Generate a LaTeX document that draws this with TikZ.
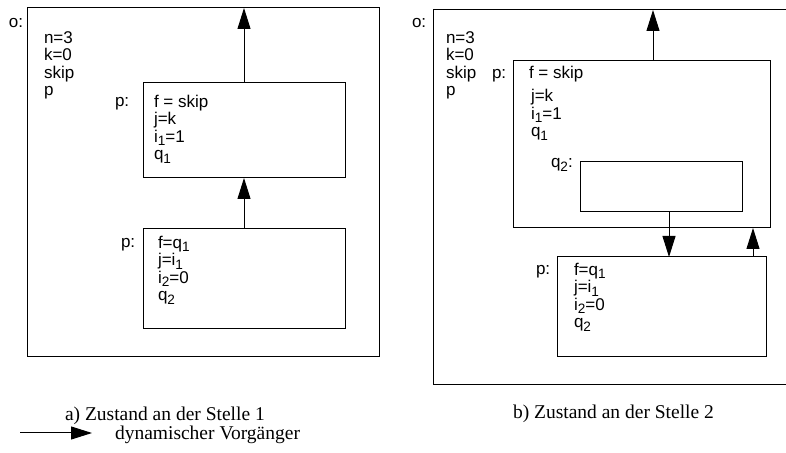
\documentclass[tikz,border=0pt]{standalone}
\usepackage{fontspec}
\setmainfont{Liberation Serif}
\setsansfont{Liberation Sans}
\usetikzlibrary{arrows.meta,positioning}
\newcommand{\tief}[1]{\raisebox{-0.4ex}{\fontsize{6.8}{7}\selectfont #1}}

\begin{document}
\begin{tikzpicture}[x=0.5pt,y=-0.5pt,
    every node/.style={inner sep=0pt,outer sep=0pt},
    box/.style={draw,line width=0.5pt,anchor=north west},
    var/.style={font=\sffamily\fontsize{8.5}{8.8}\selectfont,align=left,anchor=base west},
    beschr/.style={font=\fontsize{9.75}{11}\selectfont,anchor=base west},
    pfeil/.style={-{Triangle[length=10.5pt,width=6.5pt]},line width=0.5pt}]
  \useasboundingbox (0,0) rectangle (786,453);

  \node[box,minimum width=176pt,minimum height=174.5pt] (oa) at (27,8) {};
  \node[var] (oalab) at (9,28) {o:};
  \node[var] (oavar) at (44,96) {n=3\\k=0\\skip\\p};
  \node[box,minimum width=101pt,minimum height=47.5pt] (pa1) at (143,83) {};
  \node[var] (pa1lab) at (115,107) {p:};
  \node[var] (pa1var) at (154,160) {f = skip\\j=k\\i\tief{1}=1\\q\tief{1}};
  \node[box,minimum width=101pt,minimum height=50pt] (pa2) at (143,229) {};
  \node[var] (pa2lab) at (121,248) {p:};
  \node[var] (pa2var) at (158,301) {f=q\tief{1}\\j=i\tief{1}\\i\tief{2}=0\\q\tief{2}};
  \draw[pfeil] (pa2) -- (pa1);
  \draw[pfeil] (pa1) -- (pa1 |- oa.north);

  \node[minimum width=176.5pt,minimum height=187.5pt,anchor=north west] (ob) at (433,10) {};
  \draw[line width=0.5pt] (ob.north east) -- (ob.north west) -- (ob.south west) -- (ob.south east);
  \node[var] (oblab) at (412,28) {o:};
  \node[var] (obvar) at (446,96) {n=3\\k=0\\skip\\p};
  \node[box,minimum width=128.5pt,minimum height=83.5pt] (pb1) at (513,61) {};
  \node[var] (pb1lab) at (492,79) {p:};
  \node[var] (pb1f) at (529,79) {f = skip};
  \node[var] (pb1var) at (531,137) {j=k\\i\tief{1}=1\\q\tief{1}};
  \node[var] (q2lab) at (551,168) {q\tief{2}:};
  \node[box,minimum width=81pt,minimum height=25pt] (q2) at (580,162) {};
  \node[box,minimum width=104.5pt,minimum height=50pt] (pb2) at (557,257) {};
  \node[var] (pb2lab) at (536,275) {p:};
  \node[var] (pb2var) at (574,328) {f=q\tief{1}\\j=i\tief{1}\\i\tief{2}=0\\q\tief{2}};
  \coordinate (xb1) at (653,0);
  \coordinate (xb2) at (669,0);
  \coordinate (xb3) at (753,0);
  \draw[pfeil] (pb1.north -| xb1) -- (ob.north -| xb1);
  \draw[pfeil] (q2.south -| xb2) -- (pb2.north -| xb2);
  \draw[pfeil] (pb2.north -| xb3) -- (pb1.south -| xb3);

  \node[beschr] (capa) at (65,421) {a) Zustand an der Stelle 1};
  \node[beschr] (capb) at (513,419) {b) Zustand an der Stelle 2};
  \coordinate (lega) at (20,433);
  \coordinate (legb) at (92,433);
  \draw[pfeil] (lega) -- (legb);
  \node[beschr] (legtext) at (115,439) {dynamischer Vorgänger};
\end{tikzpicture}
\end{document}
